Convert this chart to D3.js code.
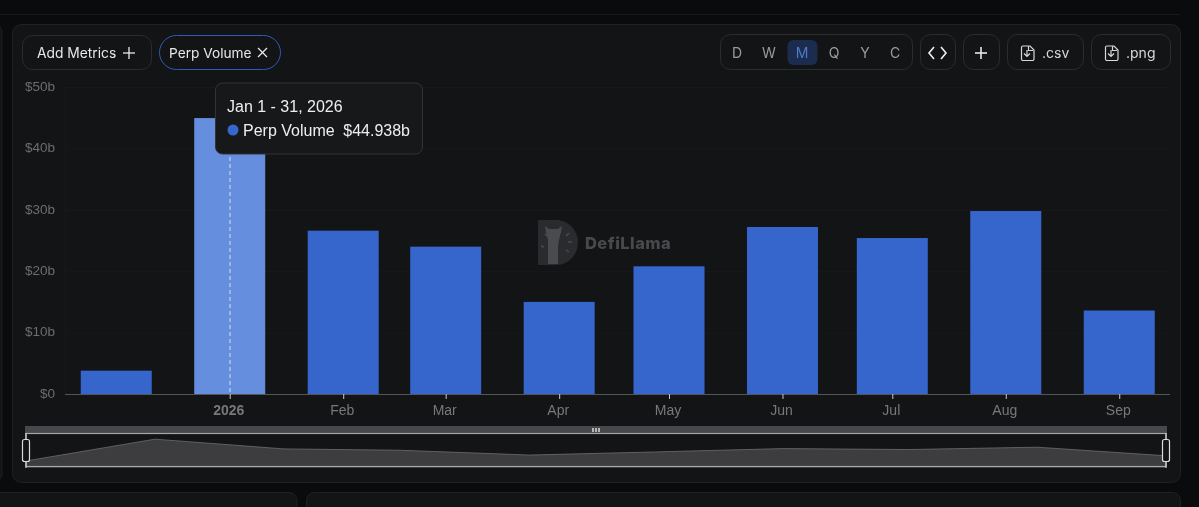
<!DOCTYPE html>
<html><head><meta charset="utf-8">
<script src="https://cdn.jsdelivr.net/npm/d3@7/dist/d3.min.js"></script>
<style>html,body{margin:0;padding:0;background:#0a0b0d;overflow:hidden}svg{display:block;filter:blur(0.3px)}</style>
</head><body><svg id="c" width="1199" height="507" font-family="Inter,'Noto Sans',sans-serif"></svg>
<script>
const months = ["2025-12-01","2026-01-01","2026-02-01","2026-03-01","2026-04-01","2026-05-01","2026-06-01","2026-07-01","2026-08-01","2026-09-01"];
const perpVolume = [3.8,44.938,26.6,24.0,15.0,20.8,27.2,25.4,29.8,13.6];
const tickLabels = ["","2026","Feb","Mar","Apr","May","Jun","Jul","Aug","Sep"];
const yTicks = [0,10,20,30,40,50];
const periods = ["D","W","M","Q","Y","C"];
const periodX = [737,769,802,834,865,895];
const parse = d3.utcParse("%Y-%m-%d");
const dates = months.map(parse);
const svg = d3.select("#c");
const helv = '"Liberation Sans",Arial,sans-serif';
const rr=(x,y,w,h,r,f,s)=>svg.append("rect").attr("x",x).attr("y",y).attr("width",w).attr("height",h).attr("rx",r).attr("fill",f).attr("stroke",s||"none");
const tx=(x,y,t,size,fill,anchor,w)=>svg.append("text").attr("x",x).attr("y",y).text(t).attr("font-size",size).attr("fill",fill).attr("text-anchor",anchor||"start").attr("font-weight",w||400);
const ln=(x1,y1,x2,y2,s,sw)=>svg.append("line").attr("x1",x1).attr("y1",y1).attr("x2",x2).attr("y2",y2).attr("stroke",s).attr("stroke-width",sw||1);

// page chrome
svg.append("rect").attr("width",1199).attr("height",507).attr("fill","#0a0b0d");
ln(0,14.5,1180,14.5,"#18191b");
rr(-20,24,22,458,8,"#131416","#1e1f21");
rr(12.5,24.5,1168,458,9,"#131416","#202124");
rr(-20,492.5,317,40,8,"#131416","#202124");
rr(306.5,492.5,874,40,8,"#131416","#202124");

// buttons
const bs="#2b2c2f";
rr(22.5,35.5,129,34,10,"none",bs);
tx(37,58,"Add Metrics",13.8,"#e8e8ea");
ln(123,53,135,53,"#e8e8ea",1.3);ln(129,47,129,59,"#e8e8ea",1.3);
rr(159.5,35.5,121,34,17,"none","#2f5bb4");
tx(169,58,"Perp Volume",13.7,"#e8e8ea");
ln(258,48,267,57,"#e8e8ea",1.2);ln(267,48,258,57,"#e8e8ea",1.2);
rr(720.5,34.5,192,35,10,"none",bs);
rr(787.5,40,30,25,6,"#1c2c4e");
periods.forEach((p,i)=>tx(periodX[i],58,p,14,p==="M"?"#4f79c9":"#9a9b9f","middle"));
rr(920.5,34.5,35,35,10,"none",bs);
svg.append("path").attr("d","M934 47l-5 6 5 6M941 47l5 6-5 6").attr("fill","none").attr("stroke","#f0f0f2").attr("stroke-width",1.6);
rr(963.5,34.5,36,35,10,"none",bs);
ln(975,53,987,53,"#e8e8ea",1.6);ln(981,47,981,59,"#e8e8ea",1.6);
rr(1007.5,34.5,76,35,10,"none",bs);
rr(1091.5,34.5,79,35,10,"none",bs);
[1024,1108].forEach(x=>{
  svg.append("path").attr("d",`M${x-1} 46h7l4 4v9a1.5 1.5 0 0 1-1.5 1.5h-9.5a1.5 1.5 0 0 1-1.5-1.5v-11.5a1.5 1.5 0 0 1 1.5-1.5zM${x+4.5} 50.5v-5M${x+4} 50.5h5M${x+3} 50v6M${x} 53.5l3 3 3-3`).attr("fill","none").attr("stroke","#d8d8da").attr("stroke-width",1.2);
});
tx(1042,58,".csv",14,"#d8d8da");
tx(1126,58,".png",14,"#d8d8da");

// scales
const x = d3.scaleUtc().domain([parse("2025-11-17"),parse("2026-09-15")]).range([65,1170.5]);
const y = d3.scaleLinear().domain([0,50]).range([394,87]);
const barW = 71;

// grid + y axis
const gy = svg.append("g").attr("transform","translate(65,0)")
  .call(d3.axisLeft(y).tickValues(yTicks).tickFormat(d=>`$${d}${d?"b":""}`).tickSize(-1105));
gy.select(".domain").attr("stroke","#18191b");
gy.selectAll(".tick line").attr("stroke","#18191b");
gy.selectAll(".tick text").attr("fill","#6c6d71").attr("font-size",13.5).attr("x",-10).attr("font-family",helv).attr("dy","0.25em");

// watermark
const wm = svg.append("g");
wm.append("path").attr("d","M538 220h18c12 0 22 10 22 22.500s-10 22.500-22 22.500h-18z").attr("fill","#2a2b2e");
wm.append("path").attr("d","M548 264v-24l-2-8-1-6 4 3h9l4-3-1 6-2 8-1 6v18z").attr("fill","#4a4b4e");
wm.append("path").attr("d","M541 246l3 1M569 233l-3 3M572 242h-4M569 252l-3-2M545 234l2 2").attr("stroke","#4a4b4e").attr("stroke-width",1.5);
wm.append("text").attr("x",585).attr("y",249).text("DefiLlama").attr("font-size",16.5).attr("font-weight",800).attr("letter-spacing",0.45).attr("fill","#48494c");

// bars
svg.append("g").selectAll("rect").data(perpVolume).join("rect")
  .attr("x",(d,i)=>x(dates[i])-barW/2).attr("width",barW)
  .attr("y",d=>y(d)).attr("height",d=>y(0)-y(d))
  .attr("fill",(d,i)=>i===1?"#668ede":"#3665cc");

// x axis
const gx = svg.append("g").attr("transform","translate(0,394)")
  .call(d3.axisBottom(x).tickValues(dates.slice(1)).tickSize(5).tickPadding(6).tickFormat(d=>tickLabels[dates.findIndex(v=>+v===+d)]));
gx.select(".domain").attr("stroke","#55565a").attr("d","M65,0.5H1170");
gx.selectAll(".tick line").attr("stroke","#c8c8ca");
gx.selectAll(".tick text").attr("fill","#77787c").attr("font-size",14).attr("font-family",helv).attr("dx",-1.5)
  .attr("font-weight",(d,i)=>i===0?700:400);

// crosshair
ln(230,87,230,394,"#d6deef",1).attr("stroke-dasharray","4 3");

// tooltip
rr(215.5,83,207,71,7,"#17181a","#323337");
tx(227,112,"Jan 1 - 31, 2026",16,"#eeeeef").attr("font-family",helv);
svg.append("circle").attr("cx",233).attr("cy",130).attr("r",5.500).attr("fill","#3766cf");
tx(243,136,"Perp Volume",16,"#eeeeef").attr("font-family",helv);
tx(410,136,"$"+perpVolume[1].toFixed(3)+"b",16,"#eeeeef","end").attr("font-family",helv);

// overview slider
const ox = d3.scaleUtc().domain([dates[0],dates[9]]).range([26,1166]);
const oy = d3.scaleLinear().domain([0,50]).range([463,436.5]);
rr(25,426,1142,7,0,"#47484b");
svg.append("path").datum(perpVolume).attr("fill","#3d3d3f").attr("stroke","#6c6d70").attr("stroke-width",.8)
  .attr("d",d3.area().x((d,i)=>ox(dates[i])).y0(467).y1(d=>oy(d)));
svg.append("rect").attr("x",26).attr("y",433.500).attr("width",1140).attr("height",33).attr("fill","none").attr("stroke","#a6a6a8").attr("stroke-width",1.2);
[593,596,599].forEach(v=>rr(v-.7,428,1.4,4,0,"#e4e4e6"));
[26,1166].forEach(v=>{
  ln(v,433,v,468,"#cfcfd1",1.2);
  rr(v-3.500,439.5,7,22,2,"#141518","#dcdcde").attr("stroke-width",1.2);
});
</script></body></html>
